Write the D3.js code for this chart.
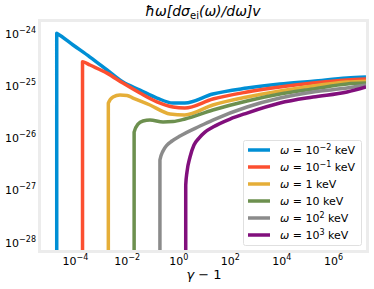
<!DOCTYPE html>
<html>
<head>
<meta charset="utf-8">
<script src="https://cdn.jsdelivr.net/npm/d3@7"></script>
<style>
  body { margin: 0; background: #fff; }
  text { font-family: "DejaVu Sans", sans-serif; fill: #000; }
</style>
</head>
<body>
<div id="chart"></div>
<script>
const width = 374
const height = 289
const margin = { top: 22, right: 8, bottom: 39, left: 41 }

// x: gamma - 1, y: hbar*omega*[dsigma/domega]*v
const xTicks = [1e-4, 1e-2, 1e0, 1e2, 1e4, 1e6]
const xTickExp = ['−4', '−2', '0', '2', '4', '6']
const yTicks = [1e-24, 1e-25, 1e-26, 1e-27, 1e-28]
const yTickExp = ['−24', '−25', '−26', '−27', '−28']

const labels = ['−2', '−1', '', '', '2', '3']
const labelBase = ['10', '10', '1', '10', '10', '10']
const colors = ['#008fd5', '#fc4f30', '#e5ae38', '#6d904f', '#8b8b8b', '#810f7c']

const blueX = [1.957e-5, 1.957e-5, 2.1e-5, 8.4e-5, 3.8e-4, 1.74e-3, 7.2e-3, 3.3e-2, 0.15, 0.63, 1.8, 22, 465, 8.8e3, 1.68e5, 3.5e6, 1.9e7]
const blueY = [1e-29, 9.9e-25, 9.7e-25, 5.9e-25, 3.47e-25, 1.96e-25, 1.15e-25, 8.1e-26, 5.7e-26, 4.57e-26, 4.57e-26, 6.8e-26, 8.85e-26, 1.06e-25, 1.2e-25, 1.38e-25, 1.44e-25]

const redX = [1.957e-4, 1.957e-4, 2.1e-4, 3.8e-4, 1.74e-3, 7.2e-3, 3.3e-2, 0.15, 0.63, 1.8, 22, 465, 8.8e3, 1.68e5, 3.5e6, 1.9e7]
const redY = [1e-29, 2.82e-25, 2.8e-25, 2.44e-25, 1.71e-25, 1.1e-25, 7.1e-26, 4.8e-26, 3.84e-26, 3.67e-26, 5.46e-26, 7.43e-26, 9.27e-26, 1.1e-25, 1.26e-25, 1.32e-25]

const yellowX = [1.957e-3, 1.957e-3, 2.97e-3, 5.55e-3, 1.04e-2, 1.77e-2, 8.07e-2, 0.48, 1.8, 22, 465, 8.8e3, 1.68e5, 3.5e6, 1.9e7]
const yellowY = [1e-29, 4.57e-26, 5.96e-26, 6.5e-26, 6.37e-26, 5.7e-26, 4.19e-26, 2.82e-26, 2.7e-26, 4.19e-26, 5.96e-26, 7.76e-26, 9.7e-26, 1.15e-25, 1.2e-25]

const greenX = [1.957e-2, 1.957e-2, 2.77e-2, 4.32e-2, 8.07e-2, 0.258, 0.63, 1.84, 22, 465, 8.8e3, 1.68e5, 3.5e6, 1.9e7]
const greenY = [1e-29, 1.27e-26, 1.81e-26, 2.07e-26, 2.16e-26, 1.98e-26, 2.02e-26, 2.26e-26, 3.36e-26, 5.0e-26, 6.8e-26, 8.47e-26, 1.06e-25, 1.1e-25]

const greyX = [0.1957, 0.1957, 0.258, 0.368, 0.575, 1.175, 7.0, 22, 465, 8.8e3, 1.68e5, 3.5e6, 1.9e7]
const greyY = [1e-29, 3.7e-27, 5.52e-27, 7.18e-27, 8.57e-27, 1.07e-26, 1.66e-26, 2.16e-26, 3.84e-26, 5.7e-26, 7.43e-26, 8.85e-26, 1.01e-25]

const purpleX = [1.957, 1.957, 2.19, 2.87, 4.09, 6.4, 10.9, 22.3, 102, 465, 8.8e3, 1.68e5, 3.5e6, 1.9e7]
const purpleY = [1e-29, 1.23e-27, 2.19e-27, 4.24e-27, 7.18e-27, 9.77e-27, 1.27e-26, 1.59e-26, 2.26e-26, 2.94e-26, 4.57e-26, 5.96e-26, 7.43e-26, 9.27e-26]

const seriesX = [blueX, redX, yellowX, greenX, greyX, purpleX]
const seriesY = [blueY, redY, yellowY, greenY, greyY, purpleY]

const x = d3.scaleLog()
            .domain([Math.pow(10, -5.318), Math.pow(10, 7.279)])
            .range([margin.left, width - margin.right])
const y = d3.scaleLog()
            .domain([Math.pow(10, -28.153), Math.pow(10, -23.789)])
            .range([height - margin.bottom, margin.top])

const svg = d3.select('#chart').append('svg')
              .attr('width', width)
              .attr('height', height)

// light grey frame round the axes
svg.append('rect')
   .attr('x', margin.left - 1.5)
   .attr('y', margin.top - 1.5)
   .attr('width', width - margin.left - margin.right + 3)
   .attr('height', height - margin.top - margin.bottom + 3)
   .attr('fill', '#fff')
   .attr('stroke', '#ececec')
   .attr('stroke-width', 3)

svg.append('clipPath').attr('id', 'clip')
   .append('rect')
   .attr('x', margin.left)
   .attr('y', margin.top)
   .attr('width', width - margin.left - margin.right)
   .attr('height', height - margin.top - margin.bottom)

const line = d3.line()
               .x(d => x(d[0]))
               .y(d => y(d[1]))
               .curve(d3.curveMonotoneX)

svg.append('g').attr('clip-path', 'url(#clip)')
   .selectAll('path')
   .data(seriesX.map((xs, i) => xs.map((v, j) => [v, seriesY[i][j]])))
   .join('path')
   .attr('d', line)
   .attr('fill', 'none')
   .attr('stroke', (d, i) => colors[i])
   .attr('stroke-width', 3.5)
   .attr('stroke-linejoin', 'round')

// x axis
const xAxis = svg.append('g')
   .attr('transform', `translate(0,${height - margin.bottom})`)
   .call(d3.axisBottom(x).tickValues(xTicks).tickSize(0).tickFormat(() => ''))
xAxis.select('.domain').remove()
xAxis.selectAll('.tick text').each(function (d, i) {
  const t = d3.select(this).attr('y', 15).attr('dy', null)
             .attr('font-size', 11).attr('text-anchor', 'middle')
  t.append('tspan').text('10')
  t.append('tspan').attr('dy', -5).attr('font-size', 8).text(xTickExp[i])
})

// y axis
const yAxis = svg.append('g')
   .attr('transform', `translate(${margin.left},0)`)
   .call(d3.axisLeft(y).tickValues(yTicks).tickSize(0).tickFormat(() => ''))
yAxis.select('.domain').remove()
yAxis.selectAll('.tick text').each(function (d, i) {
  const t = d3.select(this).attr('x', -5).attr('dy', 4)
             .attr('font-size', 11).attr('text-anchor', 'end')
  t.append('tspan').text('10')
  t.append('tspan').attr('dy', -5).attr('font-size', 8).text(yTickExp[i])
})

// title
const title = svg.append('text')
   .attr('x', 203).attr('y', 16)
   .attr('text-anchor', 'middle')
   .attr('font-size', 14)
title.append('tspan').attr('font-style', 'italic').text('ħω[dσ')
title.append('tspan').attr('font-size', 10).attr('dy', 3).text('ei')
title.append('tspan').attr('font-style', 'italic').attr('dy', -3).text('(ω)/dω]v')

// x label
svg.append('text')
   .attr('x', 204).attr('y', 279)
   .attr('text-anchor', 'middle')
   .attr('font-size', 13)
   .html('<tspan font-style="italic">γ</tspan> − 1')

// legend
const legend = svg.append('g')
legend.append('rect')
      .attr('x', 243.5).attr('y', 140.5)
      .attr('width', 118).attr('height', 105)
      .attr('rx', 2)
      .attr('fill', '#fff')
      .attr('stroke', '#e0e0e0')
      .attr('fill-opacity', 0.9)

const entry = legend.selectAll('g.entry')
  .data(colors)
  .join('g')
  .attr('class', 'entry')
  .attr('transform', (d, i) => `translate(0,${150 + i * 17})`)
entry.append('line')
     .attr('x1', 248).attr('x2', 270)
     .attr('stroke', d => d)
     .attr('stroke-width', 3.5)
entry.append('text')
     .attr('x', 280).attr('dy', 4)
     .attr('font-size', 11)
     .each(function (d, i) {
        const t = d3.select(this)
        t.append('tspan').attr('font-style', 'italic').text('ω')
        t.append('tspan').text(' = ' + labelBase[i])
        if (labels[i]) {
          t.append('tspan').attr('dy', -4).attr('font-size', 8).text(labels[i])
          t.append('tspan').attr('dy', 4).text(' keV')
        } else {
          t.append('tspan').text(' keV')
        }
     })
</script>
</body>
</html>
